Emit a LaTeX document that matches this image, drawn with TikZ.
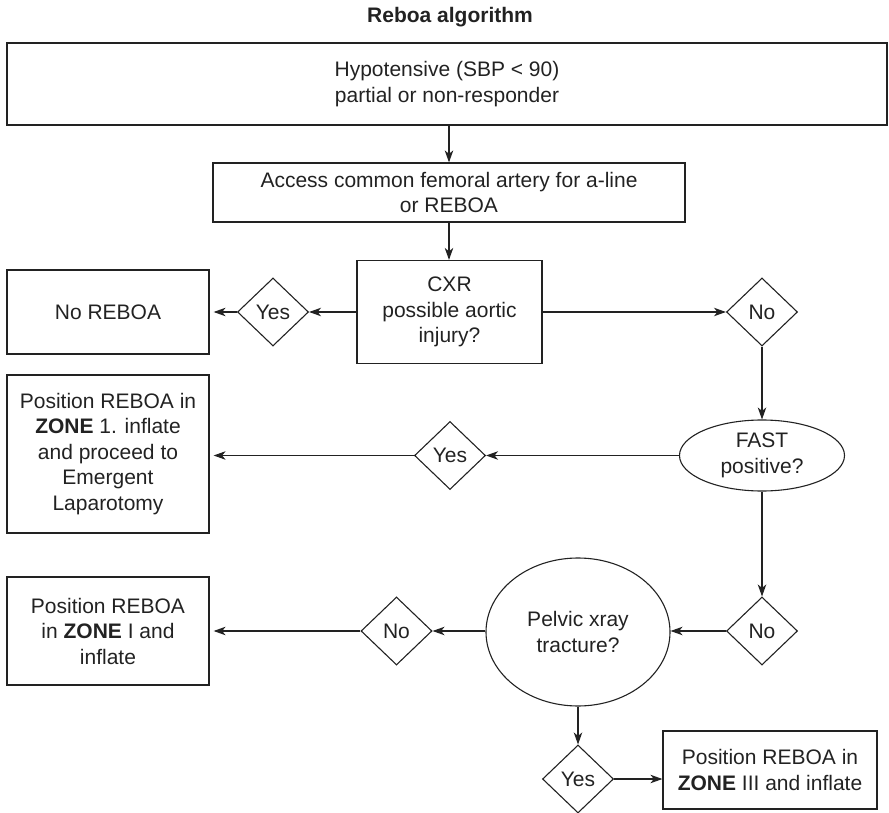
\documentclass[tikz,border=0pt]{standalone}
\usepackage{fontspec}
\setmainfont{Liberation Sans}
\usetikzlibrary{shapes.geometric,arrows.meta}
\definecolor{ink}{HTML}{222222}
\begin{document}
\begin{tikzpicture}[x=1pt,y=-1pt,
  every node/.style={font=\fontsize{21}{25.5}\selectfont, text=ink},
  box/.style={draw=ink, line width=1.2pt, rectangle, align=center, inner sep=0pt},
  dia/.style={draw=ink, line width=1.1pt, diamond, inner sep=0pt, minimum width=71pt, minimum height=68pt},
  oval/.style={draw=ink, line width=1.1pt, ellipse, inner sep=0pt, align=center},
  arr/.style={draw=ink, line width=1.1pt, -{Stealth[length=12pt,width=8.5pt,inset=3.5pt]}},
  gap/.style={shorten >=4pt}
]
\useasboundingbox (0,0) rectangle (889,813);
\node[font=\bfseries\fontsize{21}{25}\selectfont] (title) at (450,17) {Reboa algorithm};
\node[box, minimum width=880pt, minimum height=82pt] (hypo) at (447,84) {Hypotensive (SBP < 90)\\partial or non-responder};
\node[box, minimum width=472pt, minimum height=59pt] (access) at (449,192.5) {Access common femoral artery for a-line\\or REBOA};
\node[box, minimum width=185pt, minimum height=103pt] (cxr) at (449.5,312) {CXR\\possible aortic\\injury?};
\node[dia] (yes1) at (273,312) {Yes};
\node[box, minimum width=202pt, minimum height=84pt] (noreboa) at (108,312) {No REBOA};
\node[dia] (no1) at (762,312) {No};
\node[oval, minimum width=165pt, minimum height=71pt] (fast) at (762,455.5) {FAST\\positive?};
\node[dia] (yes2) at (450,455.5) {Yes};
\node[box, minimum width=202pt, minimum height=158pt] (zone1) at (108,454) {Position REBOA in\\\textbf{ZONE} 1. inflate\\and proceed to\\Emergent\\Laparotomy};
\node[dia] (no2) at (762,631) {No};
\node[oval, minimum width=184pt, minimum height=148pt] (pelvic) at (578,632) {Pelvic xray\\tracture?};
\node[dia] (no3) at (396.5,631) {No};
\node[box, minimum width=202pt, minimum height=108pt] (zoneI) at (108,631) {Position REBOA\\in \textbf{ZONE} I and\\inflate};
\node[dia] (yes3) at (578,779) {Yes};
\node[box, minimum width=214pt, minimum height=78pt] (zone3) at (770,770) {Position REBOA in\\\textbf{ZONE} III and inflate};

\draw[arr] (access.north |- hypo.south) -- (access.north);
\draw[arr] (access.south) -- (access.south |- cxr.north);
\draw[arr] (cxr.west) -- (yes1.east);
\draw[arr, gap] (yes1.west) -- (noreboa.east);
\draw[arr] (cxr.east) -- (no1.west);
\draw[arr] (no1.south) -- (fast.north);
\draw[arr] (fast.west) -- (yes2.east);
\draw[arr, gap] (yes2.west) -- (yes2.west -| zone1.east);
\draw[arr] (fast.south) -- (no2.north);
\draw[arr] (no2.west) -- (no2.west -| pelvic.east);
\draw[arr] (pelvic.west |- no3.east) -- (no3.east);
\draw[arr, gap] (no3.west) -- (no3.west -| zoneI.east);
\draw[arr] (pelvic.south) -- (yes3.north);
\draw[arr] (yes3.east) -- (yes3.east -| zone3.west);
\end{tikzpicture}
\end{document}
